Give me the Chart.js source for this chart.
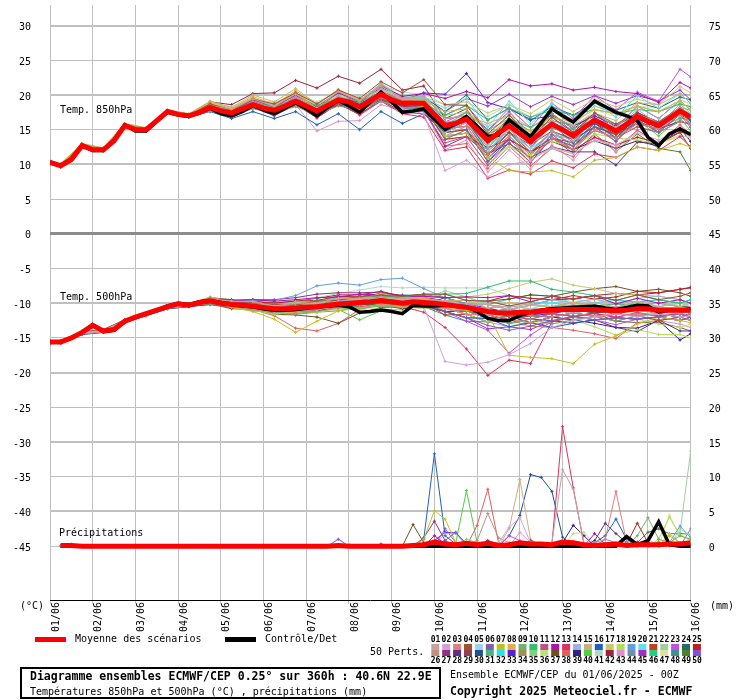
<!DOCTYPE html>
<html><head><meta charset="utf-8">
<script src="https://cdn.jsdelivr.net/npm/chart.js@4/dist/chart.umd.min.js"></script>
<style>html,body{margin:0;padding:0;background:#fff}canvas{display:block}</style>
</head><body>
<canvas id="c" width="740" height="700"></canvas>
<script>
// ---------- DATA ----------
const dayLabels = ['01/06','02/06','03/06','04/06','05/06','06/06','07/06','08/06','09/06','10/06','11/06','12/06','13/06','14/06','15/06','16/06'];
const dayHours = [0,24,48,72,96,120,144,168,192,216,240,264,288,312,336,360];
const leftTicks = [30,25,20,15,10,5,0,-5,-10,-15,-20,-25,-30,-35,-40,-45];
const rightTicks = [75,70,65,60,55,50,45,40,35,30,25,20,15,10,5,0];
const hours6 = [0,6,12,18,24,30,36,42,48,54,60,66,72,78,84,90,96,102,108,114,120,126,132,138,144,150,156,162,168,174,180,186,192,198,204,210,216,222,228,234,240,246,252,258,264,270,276,282,288,294,300,306,312,318,324,330,336,342,348,354,360];
const memberHours = [0,6,18,30,42,54,66,78,90,102,114,126,138,150,162,174,186,198,210,222,234,246,258,270,282,294,306,318,330,342,354,360];

const mean850 = [10.3,9.8,10.7,12.7,12.1,12.1,13.4,15.6,15.0,15.0,16.3,17.6,17.2,17.0,17.5,18.2,17.7,17.4,18.0,18.6,18.1,17.8,18.4,19.1,18.4,17.7,18.5,19.3,19.0,18.3,19.2,20.1,19.3,18.8,18.8,18.8,17.2,15.6,15.9,16.5,15.0,13.4,14.5,15.6,14.4,13.3,14.6,15.8,15.0,14.1,15.3,16.4,15.6,14.8,15.8,16.9,16.2,15.6,16.6,17.7,16.8];
const ctrl850 = [10.3,9.8,10.8,12.8,12.0,12.0,13.5,15.7,14.8,14.8,16.2,17.5,17.1,16.9,17.4,18.1,17.3,17.0,17.6,18.5,17.8,17.3,18.1,18.9,18.0,17.0,18.2,19.2,18.4,17.5,19.0,20.4,19.0,17.5,17.7,18.0,16.5,15.0,15.9,16.9,15.5,14.0,14.2,16.4,15.2,14.0,16.0,18.0,17.0,16.1,17.6,19.1,18.3,17.5,17.0,16.3,13.9,12.7,14.4,15.1,14.3];
const mean500 = [-15.6,-15.6,-15.0,-14.2,-13.2,-14.0,-13.8,-12.6,-12.0,-11.5,-11.0,-10.5,-10.1,-10.3,-9.9,-9.7,-10.0,-10.2,-10.3,-10.4,-10.6,-10.8,-10.8,-10.7,-10.6,-10.5,-10.3,-10.1,-10.0,-9.9,-9.8,-9.6,-9.8,-10.0,-9.8,-9.9,-10.0,-10.2,-10.4,-10.6,-10.9,-11.2,-11.4,-11.4,-11.3,-11.3,-11.1,-11.0,-10.9,-10.9,-10.9,-10.9,-11.0,-11.1,-11.0,-10.8,-10.8,-11.0,-11.0,-11.0,-11.0];
const ctrl500 = [-15.6,-15.6,-15.0,-14.2,-13.1,-14.1,-13.9,-12.6,-12.0,-11.5,-11.0,-10.4,-10.0,-10.2,-9.8,-9.6,-9.9,-10.2,-10.4,-10.5,-10.8,-11.0,-11.0,-10.9,-10.7,-10.6,-10.4,-10.3,-10.5,-11.3,-11.2,-11.0,-11.2,-11.5,-10.3,-10.4,-10.4,-10.3,-10.4,-10.5,-11.2,-12.2,-12.5,-12.5,-11.8,-11.3,-11.0,-10.8,-10.7,-10.6,-10.5,-10.4,-10.7,-10.9,-10.6,-10.3,-10.4,-11.3,-11.0,-11.0,-10.8];
// precipitation (mm per 6h), hours 6..360
const meanPrecip = [0.1,0.1,0,0,0,0,0,0,0,0, 0,0,0,0,0,0,0,0,0,0, 0,0,0,0,0,0,0.1,0,0,0, 0,0,0,0.1,0.2,0.6,0.3,0.2,0.4,0.2, 0.4,0.1,0.2,0.5,0.3,0.3,0.2,0.6,0.5,0.2, 0.1,0.2,0.3,0.1,0.2,0.2,0.2,0.3,0.3,0.5];
const ctrlPrecip = [0,0,0,0,0,0,0,0,0,0, 0,0,0,0,0,0,0,0,0,0, 0,0,0,0,0,0,0,0,0,0, 0,0,0,0,0,0,0,0,0,0, 0,0,0,0,0,0,0,0,0,0, 0,0,0,1.4,0.2,0.8,3.5,0.2,0,0];

const memberColors = ['#c8a0a0','#d0a0e0','#e08080','#a05030','#a0d0f0','#8060b0','#c0c020','#e0b050','#70b070','#30c070','#c05080','#b010b0','#e03060','#a0b0e0','#c8b080','#2060c0','#c8c870','#b0e050','#60a0e0','#60e0f0','#c04020','#a0d0a0','#c050e0','#207060','#c02020','#c09080','#903080','#603080','#904050','#205090','#50b080','#30e0e0','#6020d0','#a09050','#80d080','#c0e080','#705020','#e06060','#302080','#50d040','#b0d8c8','#a02040','#e090d0','#7090b0','#a030c0','#20d080','#e0e0a0','#409090','#508030','#8050e0'];

const members850 = [
[10.4,9.9,12.8,12.2,15.7,15.1,17.7,17.1,18.5,17.9,19.4,18.4,20.1,18.1,20.5,19.1,21.6,19.4,19.8,16.6,17.0,12.4,15.1,11.8,14.8,13.3,16.4,15.3,17.9,15.8,18.2,17.1],
[10.2,9.7,12.6,12.0,15.5,14.9,17.5,16.9,18.2,17.1,18.8,17.6,19.4,17.3,19.3,17.8,19.9,18.0,17.3,9.1,10.6,8.2,10.0,10.5,12.5,11.5,13.5,12.8,14.5,13.5,15.0,14.0],
[10.3,9.8,12.7,12.1,15.6,15.0,17.6,17.0,18.4,17.4,19.0,18.0,19.7,18.0,19.7,18.5,20.6,19.1,19.0,15.1,15.5,11.4,14.1,10.8,13.8,12.1,14.9,13.8,15.9,15.1,17.2,15.8],
[10.4,9.9,12.8,12.2,15.7,15.1,17.7,17.1,18.7,17.8,19.4,18.7,20.3,18.7,20.7,19.5,21.9,20.3,22.2,18.6,18.5,14.4,17.1,13.8,16.8,14.6,17.4,15.8,17.4,16.1,18.2,17.1],
[10.2,9.7,12.6,12.0,15.5,14.9,17.5,16.9,18.0,17.1,18.6,17.6,19.3,17.3,19.6,18.2,20.5,18.8,18.5,14.6,16.0,11.9,15.1,12.3,15.5,13.6,16.4,15.3,17.1,16.2,18.1,17.3],
[10.3,9.8,12.7,12.1,15.6,15.0,17.6,17.0,18.6,17.6,19.1,17.9,19.5,17.5,19.5,18.3,20.4,18.5,18.2,13.6,15.0,10.4,13.6,10.8,14.3,12.1,15.4,13.3,16.4,14.6,17.2,15.3],
[10.5,10.0,12.9,12.3,15.8,15.2,17.8,17.2,18.8,17.9,19.6,18.3,20.4,18.0,19.8,18.5,20.5,18.6,18.3,14.0,14.5,11.0,9.1,8.9,9.1,8.2,10.6,11.0,12.5,12.0,13.0,12.5],
[10.5,10.0,12.9,12.3,15.8,15.2,17.8,17.2,19.0,18.0,19.8,18.6,20.6,18.7,20.6,19.2,21.3,19.3,19.2,17.6,18.0,14.4,16.1,14.8,16.8,16.1,17.9,17.3,18.4,17.6,19.2,17.8],
[10.1,9.6,12.5,11.9,15.4,14.8,17.4,16.8,17.7,17.0,18.0,17.5,18.3,17.2,18.4,17.9,19.1,18.2,18.0,15.6,17.5,14.9,16.6,15.3,17.3,15.1,16.4,15.3,16.4,14.6,17.2,15.8],
[10.4,9.9,12.8,12.2,15.7,15.1,17.7,17.1,18.5,17.9,18.8,18.4,19.2,18.5,19.3,18.8,19.9,19.1,18.8,17.1,18.5,16.4,18.1,16.8,17.8,17.1,17.9,17.3,17.9,17.6,18.7,18.3],
[10.2,9.7,12.6,12.0,15.5,14.9,17.5,16.9,17.9,16.9,18.4,17.4,19.1,17.1,19.0,17.6,19.6,17.8,17.6,13.1,14.0,9.9,13.1,10.3,13.8,12.6,14.9,13.8,15.4,14.6,17.2,15.8],
[10.4,9.9,12.8,12.2,15.7,15.1,17.7,17.1,18.7,17.7,19.3,18.3,20.0,18.3,20.3,19.1,21.3,19.8,20.2,19.5,20.5,19.6,22.2,21.3,21.6,20.7,21.1,20.5,20.2,18.9,21.8,21.0],
[10.3,9.8,12.7,12.1,15.6,15.0,17.6,17.0,18.2,17.2,18.7,17.3,18.8,16.7,18.8,17.1,19.1,17.3,16.8,12.0,12.5,8.0,9.2,8.6,10.5,9.5,11.5,11.0,12.5,12.0,14.0,12.5],
[10.4,9.9,12.8,12.2,15.7,15.1,17.7,17.1,18.4,17.5,19.1,18.1,19.8,17.9,19.9,18.7,20.9,19.3,19.4,16.1,16.5,12.9,16.1,12.8,16.3,14.1,17.4,15.3,18.4,16.6,19.2,17.8],
[10.6,10.1,13.0,12.4,15.9,15.3,17.9,17.3,19.1,18.2,20.0,19.0,20.9,18.7,20.8,19.3,21.4,19.6,19.3,16.6,17.0,15.9,17.1,15.3,16.8,15.6,17.4,16.3,18.9,18.6,20.2,18.8],
[10.2,9.7,12.6,12.0,15.5,14.9,17.5,16.9,17.6,16.6,17.6,16.6,17.6,15.7,17.3,15.0,17.6,15.9,17.3,14.6,16.5,11.9,15.1,12.3,15.8,13.1,15.9,13.8,16.9,15.1,17.7,16.3],
[10.4,9.9,12.8,12.2,15.7,15.1,17.7,17.1,18.6,17.8,19.2,18.6,20.2,18.4,20.4,19.2,20.7,19.4,19.7,18.6,19.0,17.4,18.6,17.3,19.3,17.6,19.4,18.3,19.4,18.6,21.2,20.3],
[10.3,9.8,12.7,12.1,15.6,15.0,17.6,17.0,18.2,17.6,18.4,17.8,18.7,17.8,19.0,18.3,19.6,19.0,18.8,14.1,14.5,10.9,12.6,11.3,13.3,12.6,14.4,13.8,13.5,13.0,14.0,12.5],
[10.1,9.6,12.5,11.9,15.4,14.8,17.4,16.8,17.8,16.9,18.3,17.2,18.9,16.9,18.9,17.5,19.8,17.9,18.3,15.6,16.0,13.4,16.1,13.8,15.8,15.1,16.4,15.3,16.4,15.6,17.2,16.8],
[10.5,10.0,12.9,12.3,15.8,15.2,17.8,17.2,18.8,17.7,19.5,18.3,20.1,18.3,20.5,19.0,21.7,19.7,19.6,18.1,19.5,15.4,19.1,15.8,18.8,16.1,18.9,16.8,19.9,18.1,20.2,18.8],
[10.3,9.8,12.7,12.1,15.6,15.0,17.6,17.0,18.0,17.4,18.2,18.0,18.5,18.0,18.8,18.7,19.5,19.3,19.0,14.6,15.0,11.4,14.6,11.8,14.8,13.6,15.4,14.3,15.9,15.6,17.2,16.3],
[10.4,9.9,12.8,12.2,15.7,15.1,17.7,17.1,18.5,18.0,19.0,18.6,19.6,18.6,20.0,19.3,20.7,20.0,19.7,17.1,17.5,15.4,17.1,14.3,17.8,15.6,18.4,17.3,18.4,17.6,18.7,18.3],
[10.3,9.8,12.7,12.1,15.6,15.0,17.6,17.0,18.3,17.2,18.9,17.8,19.3,17.4,19.7,18.1,20.6,18.8,19.1,16.1,17.5,14.9,18.1,15.3,18.8,16.6,19.9,17.8,20.4,19.1,23.7,22.6],
[10.2,9.7,12.6,12.0,15.5,14.9,17.5,16.9,18.1,17.6,18.6,18.2,19.3,18.2,19.6,18.9,20.5,19.5,19.7,17.6,20.0,16.4,18.1,16.3,18.3,17.1,18.9,17.8,18.9,18.1,19.7,19.3],
[10.4,9.9,12.8,12.2,15.7,15.1,17.7,17.1,18.4,17.4,19.1,17.8,19.7,17.7,19.8,18.1,20.4,18.3,18.5,13.6,14.0,12.4,13.6,11.8,13.3,12.1,13.9,12.8,13.9,13.1,14.7,14.3],
[10.3,9.8,12.7,12.1,15.6,15.0,17.6,17.0,18.3,17.7,18.5,18.0,18.8,17.8,19.1,18.6,19.7,19.0,19.4,14.1,15.5,10.9,14.1,11.3,14.3,13.1,14.9,14.3,15.4,14.6,16.2,15.8],
[10.2,9.7,12.6,12.0,15.5,14.9,17.5,16.9,17.9,17.2,18.1,17.4,18.5,17.2,18.5,17.8,19.2,18.4,18.1,12.6,14.0,11.4,13.6,11.8,13.8,13.1,14.9,13.8,15.9,15.1,16.2,15.8],
[10.3,9.8,12.7,12.1,15.6,15.0,17.6,17.0,18.2,17.5,18.4,17.7,18.8,17.5,18.8,17.9,19.5,18.1,18.0,14.0,14.5,11.5,13.0,11.0,12.5,11.8,11.8,9.9,13.2,13.0,14.6,12.3],
[10.1,9.6,12.5,11.9,15.4,14.8,17.4,16.8,17.7,16.7,18.2,17.0,18.6,16.7,18.7,17.2,19.3,17.5,17.3,14.6,16.0,11.9,14.6,12.8,14.8,13.6,15.4,13.3,16.4,14.6,16.2,15.8],
[10.4,9.9,12.8,12.2,15.7,15.1,17.7,17.1,18.5,17.5,19.0,18.1,19.7,17.9,19.8,18.6,20.5,19.0,19.3,14.6,15.0,10.4,13.1,10.3,13.8,12.6,15.4,14.3,16.4,15.6,17.7,16.3],
[10.4,9.9,12.8,12.2,15.7,15.1,17.7,17.1,18.4,17.8,18.9,18.3,19.5,18.3,19.8,19.0,20.4,19.4,19.2,15.6,17.0,14.4,15.6,13.8,15.3,14.1,15.9,14.8,15.9,15.1,16.7,16.3],
[10.4,9.9,12.8,12.2,15.7,15.1,17.7,17.1,18.7,17.6,19.4,18.2,20.2,18.2,20.6,18.9,21.5,19.6,19.5,16.1,16.0,12.9,14.6,12.3,14.3,13.6,15.4,14.8,16.4,16.1,17.7,17.3],
[10.3,9.8,12.7,12.1,15.6,15.0,17.6,17.0,18.2,17.6,18.7,18.1,19.3,18.1,19.6,18.4,20.3,19.2,20.3,20.1,23.1,18.9,18.0,16.5,17.0,15.5,17.0,15.5,17.5,16.0,18.0,17.0],
[10.2,9.7,12.6,12.0,15.5,14.9,17.5,16.9,18.0,17.4,18.2,17.7,18.6,17.5,18.7,18.2,19.4,18.5,18.4,15.1,15.5,13.4,15.1,13.3,15.3,14.6,16.4,15.8,16.9,16.1,17.2,16.8],
[10.5,10.0,12.9,12.3,15.8,15.2,17.8,17.2,18.6,18.0,19.1,18.5,19.7,18.6,20.1,19.3,20.8,19.9,19.8,15.6,17.0,11.9,15.1,12.3,15.8,13.1,16.9,14.3,17.4,15.6,18.7,17.3],
[10.3,9.8,12.7,12.1,15.6,15.0,17.6,17.0,17.9,17.3,18.1,17.6,18.4,17.4,18.5,17.9,19.1,18.3,18.2,13.6,14.0,9.9,12.6,10.8,12.3,11.6,13.4,12.8,13.9,13.1,14.2,13.8],
[10.2,9.7,12.6,12.0,15.5,14.9,17.5,16.9,18.2,17.1,18.8,17.6,19.4,17.3,19.5,18.0,20.5,18.3,18.8,16.6,18.0,13.4,16.6,13.8,17.3,15.1,17.4,15.3,18.4,16.6,19.2,17.8],
[10.4,9.9,12.8,12.2,15.7,15.1,17.7,17.1,18.3,17.2,18.6,17.3,18.8,16.9,18.7,17.3,19.2,17.6,17.8,12.6,13.0,9.4,12.6,9.8,12.3,11.1,13.9,12.3,14.9,13.1,15.7,14.3],
[10.3,9.8,12.7,12.1,15.6,15.0,17.6,17.0,18.4,17.4,18.9,17.8,19.5,17.6,19.6,18.1,20.3,18.5,18.6,14.1,14.5,10.9,13.6,11.8,13.8,12.1,13.4,12.3,13.4,12.6,15.2,13.3],
[10.4,9.9,12.8,12.2,15.7,15.1,17.7,17.1,18.5,17.9,18.8,18.2,19.2,18.3,19.3,18.8,20.0,19.2,19.0,15.1,16.5,12.4,15.6,12.8,16.3,13.6,16.4,13.8,16.4,14.1,16.7,14.8],
[10.5,10.0,12.9,12.3,15.8,15.2,17.8,17.2,18.9,18.3,19.4,18.9,20.1,19.0,20.4,19.7,21.3,20.4,20.1,18.6,18.5,16.9,18.6,16.8,18.3,17.1,18.4,17.3,18.4,17.6,19.2,18.8],
[10.5,10.0,12.9,12.3,15.8,15.2,17.8,17.2,19.0,18.6,20.2,20.3,22.1,21.0,22.7,21.7,23.7,20.7,21.3,16.6,17.0,13.9,15.6,13.8,15.3,14.1,15.9,14.3,15.9,15.1,16.2,15.8],
[10.3,9.8,12.7,12.1,15.6,15.0,17.6,17.0,18.2,17.0,18.4,17.0,18.6,14.8,16.2,16.3,18.6,17.8,18.0,12.1,13.5,8.9,12.1,9.3,12.8,10.6,14.4,11.8,14.9,13.1,15.2,13.8],
[10.2,9.7,12.6,12.0,15.5,14.9,17.5,16.9,18.1,17.4,18.7,18.0,19.1,18.0,19.4,18.5,20.1,19.1,19.2,15.1,15.5,13.9,16.6,14.8,16.3,15.6,16.9,15.8,16.9,16.1,17.7,17.3],
[10.4,9.9,12.8,12.2,15.7,15.1,17.7,17.1,18.5,17.6,19.2,18.2,19.9,18.2,20.2,18.9,21.1,19.6,19.8,17.6,19.5,18.4,20.1,18.3,19.8,18.6,19.9,18.8,19.9,19.1,20.7,19.3],
[10.3,9.8,12.7,12.1,15.6,15.0,17.6,17.0,18.4,17.8,18.7,18.3,19.1,18.3,19.5,19.0,20.4,19.6,19.3,16.6,17.0,12.9,16.1,13.3,16.8,14.1,17.4,14.8,17.4,16.1,18.2,17.8],
[10.4,9.9,12.8,12.2,15.7,15.1,17.7,17.1,18.7,18.1,19.5,18.8,20.3,18.5,20.3,18.9,21.0,19.3,19.4,16.1,17.5,13.9,17.1,14.3,17.3,15.1,17.9,16.8,18.4,18.1,19.7,18.3],
[10.2,9.7,12.6,12.0,15.5,14.9,17.5,16.9,17.9,17.3,18.2,17.8,18.5,17.5,18.6,18.0,19.3,18.6,18.3,14.6,16.5,11.4,14.6,11.3,14.8,12.6,15.9,13.8,16.9,14.6,17.2,15.8],
[10.3,9.8,12.7,12.1,15.6,15.0,17.6,17.0,18.3,17.3,18.8,17.5,19.4,17.3,19.4,17.8,20.1,18.2,18.4,14.6,16.0,11.4,14.1,10.8,13.8,11.6,14.4,11.8,14.4,12.3,11.8,9.1],
[10.4,9.9,12.8,12.2,15.7,15.1,17.7,17.1,18.4,17.7,18.7,18.2,19.1,18.2,19.4,18.9,20.3,19.5,19.6,17.1,18.5,14.9,17.6,14.3,17.3,14.6,17.4,14.8,17.4,15.1,17.7,16.3]
];

const members500 = [
[-15.5,-15.5,-14.2,-13.9,-12.5,-11.5,-10.5,-10.2,-9.4,-9.7,-9.8,-10.4,-10.0,-10.0,-9.3,-9.3,-9.1,-9.3,-9.5,-9.7,-10.3,-10.2,-10.6,-10.1,-10.5,-10.2,-10.6,-10.5,-10.8,-10.6,-10.8,-10.5],
[-15.6,-15.6,-14.3,-14.0,-12.6,-11.6,-10.6,-10.3,-9.8,-10.2,-10.2,-10.8,-10.4,-10.4,-9.7,-9.7,-9.3,-10.0,-10.5,-18.4,-18.9,-18.5,-17.4,-15.8,-13.5,-12.5,-12.0,-11.5,-12.0,-11.5,-12.0,-11.8],
[-15.7,-15.7,-14.4,-14.1,-12.7,-11.7,-10.7,-10.4,-10.0,-10.4,-10.9,-11.1,-11.3,-10.9,-10.6,-10.6,-10.2,-10.4,-10.4,-10.7,-11.6,-11.7,-12.4,-12.8,-12.0,-11.4,-11.9,-11.6,-11.6,-11.3,-11.5,-11.2],
[-15.4,-15.4,-14.1,-13.8,-12.4,-11.4,-10.4,-10.1,-9.3,-9.9,-9.9,-10.2,-10.3,-9.7,-9.6,-9.0,-8.9,-9.0,-8.7,-8.7,-9.6,-9.7,-10.4,-9.8,-9.0,-9.4,-8.9,-9.6,-8.8,-9.5,-9.0,-8.5],
[-15.6,-15.6,-14.3,-14.0,-12.6,-11.6,-10.6,-10.3,-9.7,-10.5,-10.2,-11.2,-10.6,-11.0,-10.1,-10.2,-9.4,-10.2,-9.9,-9.7,-10.6,-11.7,-11.4,-10.8,-11.0,-11.4,-10.9,-10.6,-10.8,-11.5,-11.0,-10.5],
[-15.5,-15.5,-14.2,-13.9,-12.5,-11.5,-10.5,-10.2,-9.5,-9.8,-10.4,-10.5,-10.9,-10.3,-10.4,-9.8,-10.0,-10.0,-10.1,-11.2,-12.1,-13.2,-13.9,-13.3,-12.5,-11.9,-12.4,-12.1,-12.3,-12.0,-11.5,-12.0],
[-15.6,-15.6,-14.3,-14.0,-12.6,-11.6,-10.6,-10.3,-9.9,-10.6,-11.2,-12.3,-14.2,-12.6,-11.1,-10.7,-10.1,-10.6,-10.3,-10.8,-11.0,-11.5,-17.5,-17.8,-18.0,-18.7,-15.9,-14.7,-13.0,-12.0,-12.5,-12.8],
[-15.7,-15.7,-14.4,-14.1,-12.7,-11.7,-10.7,-10.4,-9.2,-10.0,-9.7,-10.4,-9.8,-9.9,-9.3,-9.4,-8.6,-9.2,-9.3,-9.7,-9.6,-10.7,-9.9,-10.3,-10.5,-9.9,-10.4,-11.1,-10.3,-11.0,-10.5,-11.0],
[-15.6,-15.6,-14.3,-14.0,-12.6,-11.6,-10.6,-10.3,-10.1,-10.5,-11.0,-11.3,-11.5,-11.2,-10.7,-10.8,-10.4,-10.5,-10.6,-10.2,-11.1,-12.2,-12.9,-12.3,-13.0,-12.4,-11.9,-12.6,-11.8,-11.5,-12.0,-11.5],
[-15.5,-15.5,-14.2,-13.9,-12.5,-11.5,-10.5,-10.2,-9.5,-9.7,-10.1,-10.1,-10.1,-9.6,-9.6,-9.1,-9.0,-9.1,-8.7,-8.7,-8.6,-7.7,-6.8,-6.8,-8.0,-8.4,-8.9,-9.6,-8.8,-9.5,-10.0,-9.5],
[-15.7,-15.7,-14.4,-14.1,-12.7,-11.7,-10.7,-10.4,-9.8,-10.0,-10.7,-10.8,-10.9,-10.2,-10.2,-9.7,-9.9,-9.9,-9.9,-10.7,-10.6,-11.2,-11.9,-12.3,-11.5,-11.9,-12.4,-12.1,-11.3,-12.0,-12.5,-12.0],
[-15.6,-15.6,-14.3,-14.0,-12.6,-11.6,-10.6,-10.3,-9.4,-9.6,-9.5,-9.7,-9.5,-9.2,-9.1,-8.7,-8.8,-8.9,-9.0,-9.2,-9.1,-9.2,-8.9,-9.8,-9.0,-9.4,-8.9,-10.1,-9.3,-10.0,-9.5,-10.0],
[-15.5,-15.5,-14.2,-13.9,-12.5,-11.5,-10.5,-10.2,-9.5,-10.2,-10.1,-10.8,-10.3,-10.3,-10.0,-9.9,-9.4,-10.5,-11.3,-13.5,-16.6,-20.4,-18.2,-18.7,-12.7,-12.0,-11.5,-12.0,-11.5,-11.8,-11.5,-11.0],
[-15.6,-15.6,-14.3,-14.0,-12.6,-11.6,-10.6,-10.3,-9.7,-9.9,-10.3,-10.4,-10.5,-10.0,-9.5,-9.5,-8.9,-9.5,-9.3,-10.2,-10.1,-10.2,-10.9,-10.3,-9.5,-9.9,-9.4,-10.1,-9.3,-9.0,-9.5,-10.0],
[-15.4,-15.4,-14.1,-13.8,-12.4,-11.4,-10.4,-10.1,-9.1,-9.8,-10.1,-10.6,-10.3,-9.9,-9.3,-9.4,-8.9,-9.6,-9.4,-9.7,-10.6,-10.7,-10.4,-10.8,-11.0,-10.4,-9.9,-10.6,-9.8,-10.5,-10.0,-10.5],
[-15.8,-15.8,-14.5,-14.2,-12.8,-11.8,-10.8,-10.5,-10.2,-10.5,-10.8,-11.0,-11.0,-10.6,-10.3,-9.9,-9.9,-10.1,-10.1,-11.2,-12.1,-12.2,-13.4,-12.8,-13.5,-12.9,-12.4,-12.1,-12.3,-12.0,-12.5,-12.0],
[-15.6,-15.6,-14.3,-14.0,-12.6,-11.6,-10.6,-10.3,-9.6,-10.2,-10.1,-10.6,-10.2,-10.2,-9.7,-9.7,-9.3,-9.5,-9.1,-9.2,-9.1,-8.7,-7.9,-7.0,-6.5,-7.4,-7.9,-8.6,-8.8,-9.0,-9.5,-10.0],
[-15.5,-15.5,-14.2,-13.9,-12.5,-11.5,-10.5,-10.2,-9.9,-10.6,-11.0,-11.6,-11.3,-11.4,-10.6,-10.7,-10.3,-10.6,-10.4,-10.7,-11.6,-12.7,-12.4,-12.8,-13.0,-12.4,-13.4,-14.6,-13.8,-14.5,-14.5,-15.0],
[-15.6,-15.6,-14.3,-14.0,-12.6,-11.6,-10.6,-10.3,-9.4,-9.7,-9.6,-9.6,-8.9,-7.5,-7.1,-7.4,-6.6,-6.4,-7.9,-9.2,-10.1,-11.2,-10.9,-11.3,-10.5,-11.4,-10.9,-11.6,-10.8,-10.5,-11.0,-11.5],
[-15.7,-15.7,-14.4,-14.1,-12.7,-11.7,-10.7,-10.4,-9.6,-10.3,-10.2,-10.8,-10.4,-10.4,-9.9,-9.9,-9.2,-9.8,-9.6,-9.7,-9.6,-9.7,-10.4,-10.8,-10.0,-9.4,-9.9,-10.6,-9.8,-10.5,-10.0,-9.5],
[-15.6,-15.6,-14.3,-14.0,-12.6,-11.6,-10.6,-10.3,-10.0,-10.7,-10.6,-11.2,-10.8,-10.8,-10.1,-10.1,-9.5,-10.1,-9.9,-11.7,-11.6,-11.7,-12.4,-11.3,-11.5,-11.9,-11.4,-12.6,-11.8,-12.5,-12.0,-11.5],
[-15.5,-15.5,-14.2,-13.9,-12.5,-11.5,-10.5,-10.2,-9.3,-10.0,-9.9,-10.5,-10.1,-10.1,-9.4,-9.4,-9.3,-9.4,-9.5,-8.2,-9.1,-10.2,-10.9,-10.3,-10.5,-10.9,-10.4,-11.1,-10.3,-10.0,-10.5,-10.0],
[-15.6,-15.6,-14.3,-14.0,-12.6,-11.6,-10.6,-10.3,-9.7,-10.0,-10.5,-10.7,-11.0,-10.5,-10.3,-9.8,-9.7,-9.8,-9.9,-11.2,-12.6,-13.9,-17.2,-14.6,-12.6,-11.9,-12.4,-13.1,-12.3,-12.0,-12.5,-12.0],
[-15.7,-15.7,-14.4,-14.1,-12.7,-11.7,-10.7,-10.4,-9.9,-10.2,-10.7,-10.9,-11.1,-10.7,-10.6,-10.2,-10.2,-10.4,-10.2,-10.2,-10.1,-11.2,-11.9,-11.3,-10.5,-10.9,-11.4,-11.1,-10.3,-10.0,-10.5,-10.5],
[-15.5,-15.5,-14.2,-13.9,-12.5,-11.5,-10.5,-10.2,-9.2,-9.5,-9.8,-10.0,-9.7,-9.6,-9.0,-9.1,-8.6,-9.3,-9.3,-9.7,-9.6,-9.7,-8.9,-9.3,-9.5,-8.9,-9.4,-9.1,-8.3,-8.5,-8.0,-7.7],
[-15.6,-15.6,-14.3,-14.0,-12.6,-11.6,-10.6,-10.3,-9.8,-10.4,-10.4,-11.1,-10.6,-10.7,-9.9,-10.0,-9.4,-10.0,-9.8,-10.7,-11.6,-11.7,-11.4,-11.8,-12.0,-11.4,-11.9,-11.6,-11.8,-12.5,-12.0,-12.5],
[-15.5,-15.5,-14.2,-13.9,-12.5,-11.5,-10.5,-10.2,-9.4,-9.6,-9.5,-9.5,-9.2,-8.7,-8.5,-8.5,-8.4,-9.0,-9.1,-9.7,-10.6,-11.7,-11.4,-10.8,-11.0,-10.4,-10.9,-11.6,-10.8,-10.5,-11.0,-10.5],
[-15.7,-15.7,-14.4,-14.1,-12.7,-11.7,-10.7,-10.4,-9.9,-10.6,-10.7,-11.3,-11.1,-11.1,-10.6,-10.6,-10.2,-10.8,-10.4,-11.2,-11.1,-12.2,-12.9,-12.3,-12.5,-12.9,-12.4,-13.5,-14.1,-12.4,-14.0,-14.0],
[-15.6,-15.6,-14.3,-14.0,-12.6,-11.6,-10.6,-10.3,-9.5,-10.1,-10.0,-10.6,-10.2,-10.2,-9.5,-9.5,-9.1,-9.7,-9.7,-10.2,-11.1,-11.7,-12.4,-11.8,-11.0,-11.4,-10.9,-10.6,-10.8,-11.5,-11.0,-11.5],
[-15.7,-15.7,-14.4,-14.1,-12.7,-11.7,-10.7,-10.4,-9.7,-10.4,-10.3,-10.9,-10.5,-10.5,-9.8,-9.8,-9.4,-10.1,-9.9,-10.7,-11.6,-12.7,-12.4,-11.8,-12.0,-11.4,-11.9,-11.6,-10.8,-11.5,-12.0,-11.5],
[-15.5,-15.5,-14.2,-13.9,-12.5,-11.5,-10.5,-10.2,-9.5,-9.8,-10.2,-10.3,-10.4,-9.9,-9.7,-9.2,-9.1,-9.2,-9.0,-9.2,-10.1,-10.2,-10.9,-11.3,-10.5,-9.9,-10.4,-10.1,-10.3,-11.0,-10.5,-11.0],
[-15.6,-15.6,-14.3,-14.0,-12.6,-11.6,-10.6,-10.3,-9.6,-9.9,-9.9,-10.1,-9.8,-9.7,-9.1,-9.2,-9.1,-9.4,-9.1,-8.7,-9.6,-10.7,-10.4,-9.8,-10.0,-10.4,-9.9,-9.6,-9.8,-9.5,-10.0,-9.5],
[-15.6,-15.6,-14.3,-14.0,-12.6,-11.6,-10.6,-10.3,-9.8,-10.1,-10.6,-10.8,-11.0,-10.6,-10.3,-9.9,-10.0,-10.2,-10.2,-9.2,-10.1,-10.7,-11.4,-11.8,-11.5,-10.9,-11.4,-11.1,-10.3,-11.0,-10.5,-11.0],
[-15.7,-15.7,-14.4,-14.1,-12.7,-11.7,-10.7,-10.4,-10.2,-10.6,-11.1,-11.4,-11.6,-11.3,-11.1,-10.6,-10.4,-10.6,-10.6,-11.2,-12.1,-12.2,-11.9,-12.3,-11.5,-11.9,-11.4,-12.1,-12.3,-12.0,-11.5,-12.0],
[-15.6,-15.6,-14.3,-14.0,-12.6,-11.6,-10.6,-10.3,-9.5,-10.2,-10.1,-10.7,-10.3,-10.3,-9.6,-9.6,-9.4,-9.6,-9.8,-10.2,-10.1,-11.2,-10.9,-10.3,-10.5,-10.9,-10.4,-11.1,-11.3,-11.0,-11.5,-11.0],
[-15.5,-15.5,-14.2,-13.9,-12.5,-11.5,-10.5,-10.2,-9.7,-10.4,-10.8,-11.3,-11.4,-11.1,-10.9,-10.9,-10.8,-11.0,-10.7,-10.7,-11.1,-12.2,-12.9,-13.3,-12.5,-11.9,-11.4,-12.1,-12.3,-13.0,-13.5,-13.0],
[-15.8,-15.8,-14.5,-14.2,-12.8,-11.8,-10.8,-10.5,-10.1,-10.8,-10.9,-11.6,-11.7,-12.0,-12.9,-11.4,-10.6,-10.5,-10.1,-9.7,-9.6,-9.7,-9.4,-8.8,-9.0,-8.4,-7.9,-7.6,-8.3,-8.0,-8.5,-9.0],
[-15.6,-15.6,-14.3,-14.0,-12.6,-11.6,-10.6,-10.3,-9.5,-10.2,-10.9,-11.8,-13.6,-14.0,-12.9,-10.9,-10.1,-10.3,-10.1,-10.7,-11.6,-12.7,-12.4,-13.3,-13.5,-13.9,-14.4,-15.1,-12.8,-12.5,-12.0,-12.5],
[-15.5,-15.5,-14.2,-13.9,-12.5,-11.5,-10.5,-10.2,-9.6,-10.0,-10.4,-10.7,-10.8,-10.5,-10.3,-10.0,-9.9,-10.2,-10.3,-11.2,-11.1,-12.2,-11.9,-12.8,-12.0,-12.4,-12.9,-13.5,-13.6,-12.5,-15.3,-14.4],
[-15.6,-15.6,-14.3,-14.0,-12.6,-11.6,-10.6,-10.3,-10.0,-10.3,-10.8,-11.0,-11.3,-11.0,-10.9,-12.4,-11.1,-10.8,-10.4,-10.2,-11.1,-11.2,-10.9,-11.3,-11.5,-10.9,-10.4,-10.1,-10.3,-11.0,-10.5,-11.0],
[-15.4,-15.4,-14.1,-13.8,-12.4,-11.4,-10.4,-10.1,-9.2,-9.5,-9.6,-9.8,-9.6,-9.2,-8.6,-8.1,-7.6,-7.8,-7.7,-7.8,-7.8,-7.8,-8.9,-9.3,-9.5,-9.9,-9.4,-10.1,-10.3,-10.0,-10.5,-10.0],
[-15.6,-15.6,-14.3,-14.0,-12.6,-11.6,-10.6,-10.3,-9.3,-9.7,-9.7,-9.9,-9.7,-9.3,-8.8,-8.8,-8.3,-9.0,-8.7,-9.2,-10.1,-11.2,-10.9,-10.3,-9.5,-9.4,-8.9,-8.6,-8.8,-8.5,-8.0,-7.8],
[-15.7,-15.7,-14.4,-14.1,-12.7,-11.7,-10.7,-10.4,-9.9,-10.2,-10.7,-10.9,-11.1,-10.7,-10.6,-10.2,-9.8,-10.0,-10.0,-10.7,-11.6,-12.7,-13.4,-12.8,-12.0,-12.4,-11.9,-11.6,-11.8,-12.5,-13.0,-13.5],
[-15.6,-15.6,-14.3,-14.0,-12.6,-11.6,-10.6,-10.3,-9.7,-10.0,-10.0,-10.2,-10.2,-9.8,-9.2,-9.1,-8.6,-8.8,-8.9,-10.2,-10.1,-11.7,-12.4,-12.8,-12.0,-11.4,-11.9,-11.6,-10.8,-11.5,-12.0,-11.5],
[-15.5,-15.5,-14.2,-13.9,-12.5,-11.5,-10.5,-10.2,-9.6,-10.3,-10.2,-10.8,-10.4,-10.4,-9.7,-9.7,-9.1,-9.7,-9.5,-11.2,-12.1,-13.7,-13.4,-13.8,-12.5,-12.9,-12.4,-12.1,-12.3,-12.0,-11.5,-12.0],
[-15.6,-15.6,-14.3,-14.0,-12.6,-11.6,-10.6,-10.3,-9.4,-9.7,-10.0,-10.2,-10.2,-9.7,-9.4,-9.0,-8.8,-8.9,-8.9,-9.2,-9.1,-10.2,-9.4,-8.8,-9.0,-9.4,-8.9,-9.6,-9.8,-9.5,-10.0,-9.5],
[-15.5,-15.5,-14.2,-13.9,-12.5,-11.5,-10.5,-10.2,-9.5,-9.9,-10.3,-10.4,-10.5,-10.0,-9.8,-9.3,-9.2,-9.3,-9.4,-10.2,-11.1,-12.2,-11.9,-11.3,-10.5,-10.9,-11.4,-11.1,-11.3,-11.0,-10.5,-11.0],
[-15.7,-15.7,-14.4,-14.1,-12.7,-11.7,-10.7,-10.4,-9.8,-10.5,-10.6,-11.2,-11.0,-11.0,-10.5,-10.5,-10.1,-10.7,-10.5,-11.7,-12.6,-12.7,-12.4,-12.8,-12.0,-11.4,-11.9,-11.6,-11.8,-11.5,-12.0,-12.5],
[-15.6,-15.6,-14.3,-14.0,-12.6,-11.6,-10.6,-10.3,-9.7,-10.3,-10.3,-11.0,-10.7,-10.8,-10.2,-10.3,-9.8,-10.5,-10.2,-10.2,-11.1,-11.7,-11.4,-11.8,-12.0,-12.4,-11.9,-12.6,-12.8,-12.8,-13.5,-14.0],
[-15.6,-15.6,-14.3,-14.0,-12.6,-11.6,-10.6,-10.3,-9.6,-10.0,-10.1,-10.6,-10.3,-10.2,-9.9,-9.5,-9.5,-9.7,-9.7,-9.7,-10.6,-10.7,-11.4,-11.8,-11.0,-10.4,-10.9,-10.6,-9.8,-10.5,-11.0,-10.5]
];

// member precipitation: [hour, mm] readings (zero stretches between listed points)
const membersPrecip = [
[[6,0],[12,0.3],[18,0],[276,0],[282,0.5],[288,11.0],[294,8.2],[300,0.5],[306,0],[360,0]],
[[6,0],[246,0],[252,0.5],[258,2.7],[264,4.1],[270,0.5],[276,0],[360,0]],
[[6,0],[300,0],[306,0.5],[312,1.0],[318,7.9],[324,0.5],[330,0],[360,0]],
[[6,0],[204,0],[210,0.4],[216,0],[264,0],[270,0.8],[276,0],[360,0]],
[[6,0],[162,0],[168,0.3],[174,0],[330,0],[336,1.0],[342,0],[360,0]],
[[6,0],[216,0],[222,0.8],[228,2.0],[234,0.3],[240,0],[360,0]],
[[6,0],[204,0],[210,1.0],[216,5.1],[222,3.9],[228,0.5],[234,0],[342,0],[348,1.5],[354,0.5],[360,0]],
[[6,0],[228,0],[234,0.6],[240,0],[360,0]],
[[6,0],[324,0],[330,1.5],[336,4.1],[342,1.0],[348,0.5],[354,1.5],[360,1.0]],
[[6,0],[264,0],[270,0.5],[276,0],[360,0]],
[[6,0],[288,0],[294,0.6],[300,0],[360,0]],
[[6,0],[210,0],[216,1.5],[222,0.3],[228,0],[300,0],[306,1.8],[312,0.3],[318,0],[360,0]],
[[6,0],[276,0],[282,0.3],[288,17.2],[294,8.4],[300,0.3],[306,0],[360,0]],
[[6,0],[216,0],[222,1.8],[228,1.8],[234,0],[360,0]],
[[6,0],[252,0],[258,2.5],[264,9.6],[270,1.0],[276,0],[360,0]],
[[6,0],[204,0],[210,1.0],[216,13.3],[222,1.5],[228,0.3],[234,0],[300,0],[306,0.5],[312,1.5],[318,3.9],[324,1.0],[330,0],[360,0]],
[[6,0],[342,0],[348,1.8],[354,0.5],[360,0]],
[[6,0],[336,0],[342,1.0],[348,4.2],[354,1.5],[360,0.8]],
[[6,0],[342,0],[348,0.5],[354,2.9],[360,1.2]],
[[6,0],[240,0],[246,0.4],[252,0],[360,0]],
[[6,0],[180,0],[186,0.3],[192,0],[360,0]],
[[6,0],[342,0],[348,0.3],[354,2.0],[360,13.7]],
[[6,0],[216,0],[222,2.5],[228,0.5],[234,0],[252,0],[258,1.5],[264,0.8],[270,0],[360,0]],
[[6,0],[258,0],[264,0.5],[270,0],[360,0]],
[[6,0],[318,0],[324,0.3],[330,3.3],[336,0.5],[342,0],[360,0]],
[[6,0],[234,0],[240,0.8],[246,4.7],[252,1.2],[258,0.5],[264,0],[360,0]],
[[6,0],[204,0],[210,1.2],[216,3.6],[222,0.8],[228,0],[360,0]],
[[6,0],[300,0],[306,0.8],[312,3.3],[318,1.8],[324,0.5],[330,0],[360,0]],
[[6,0],[228,0],[234,0.5],[240,0],[360,0]],
[[6,0],[252,0],[258,1.5],[264,4.4],[270,10.3],[276,9.9],[282,7.9],[288,1.3],[294,0],[360,0]],
[[6,0],[246,0],[252,0.5],[258,0],[360,0]],
[[6,0],[282,0],[288,0.5],[294,0],[360,0]],
[[6,0],[204,0],[210,0.3],[216,0.8],[222,2.0],[228,1.9],[234,0.3],[240,0],[360,0]],
[[6,0],[258,0],[264,0.6],[270,0],[360,0]],
[[6,0],[228,0],[234,1.0],[240,0.5],[246,0],[360,0]],
[[6,0],[288,0],[294,1.8],[300,2.0],[306,0.3],[312,0],[360,0]],
[[6,0],[198,0],[204,3.1],[210,0.5],[216,0],[360,0]],
[[6,0],[234,0],[240,3.0],[246,8.2],[252,0.5],[258,0],[360,0]],
[[6,0],[282,0],[288,0.5],[294,3.0],[300,1.5],[306,0],[360,0]],
[[6,0],[222,0],[228,0.5],[234,8.0],[240,0.5],[246,0],[360,0]],
[[6,0],[348,0],[354,2.5],[360,1.5]],
[[6,0],[240,0],[246,0.8],[252,0.3],[258,0],[360,0]],
[[6,0],[258,0],[264,2.0],[270,0.5],[276,0],[360,0]],
[[6,0],[306,0],[312,1.0],[318,0.5],[324,0],[354,0],[360,2.5]],
[[6,0],[324,0],[330,0.6],[336,0],[360,0]],
[[6,0],[264,0],[270,0.4],[276,0],[360,0]],
[[6,0],[342,0],[348,4.5],[354,1.5],[360,1.8]],
[[6,0],[336,0],[342,0.6],[348,0],[360,0]],
[[6,0],[324,0],[330,0.5],[336,2.0],[342,2.5],[348,1.8],[354,1.8],[360,1.7]],
[[6,0],[156,0],[162,1.0],[168,0],[360,0]]
];

// ---------- LAYOUT ----------
const Y_MIN = -52.76, Y_MAX = 32.96, RIGHT_SHIFT = 45;
const FONT = '"DejaVu Sans Mono", "Liberation Mono", monospace';

const datasets = [];
const xy = (hs, vs) => vs.map((v, i) => ({x: hs[i], y: v}));
const precipHours = hours6.slice(1);

datasets.push({data: xy(hours6, mean850), borderColor:'#ff0000', borderWidth:5, pointRadius:0, yAxisID:'y', order:0});
datasets.push({data: xy(hours6, mean500), borderColor:'#ff0000', borderWidth:5, pointRadius:0, yAxisID:'y', order:0});
datasets.push({data: xy(precipHours, meanPrecip), borderColor:'#ff0000', borderWidth:5, pointRadius:0, yAxisID:'y2', order:0});
datasets.push({data: xy(hours6, ctrl850), borderColor:'#000000', borderWidth:3.5, pointRadius:0, yAxisID:'y', order:1});
datasets.push({data: xy(hours6, ctrl500), borderColor:'#000000', borderWidth:3.5, pointRadius:0, yAxisID:'y', order:1});
datasets.push({data: xy(precipHours, ctrlPrecip), borderColor:'#000000', borderWidth:3.5, pointRadius:0, yAxisID:'y2', order:1});

const memberStyle = (c) => ({borderColor:c, backgroundColor:c, pointBorderColor:c, borderWidth:1, pointStyle:'cross', pointRadius:1.6, pointBorderWidth:1, order:2});
for (let m = 0; m < memberColors.length; m++) {
  const c = memberColors[m];
  datasets.push(Object.assign({data: xy(memberHours, members850[m]), yAxisID:'y'}, memberStyle(c)));
  datasets.push(Object.assign({data: xy(memberHours, members500[m]), yAxisID:'y'}, memberStyle(c)));
  datasets.push(Object.assign({data: membersPrecip[m].map(p => ({x:p[0], y:p[1]})), yAxisID:'y2'}, memberStyle(c)));
}

const decor = {
  id: 'decor',
  afterDraw(chart) {
    const ctx = chart.ctx;
    ctx.save();
    ctx.fillStyle = '#000';
    ctx.textBaseline = 'middle';
    ctx.textAlign = 'left';
    ctx.font = '10px ' + FONT;
    ctx.fillText('Temp. 850hPa', 60, 110);
    ctx.fillText('Temp. 500hPa', 60, 297);
    ctx.fillText('Précipitations', 59, 533);
    ctx.fillText('(°C)', 20, 606);
    ctx.fillText('(mm)', 710, 606);
    // legend
    ctx.fillStyle = '#ff0000'; ctx.fillRect(35, 637, 31, 5);
    ctx.fillStyle = '#000000'; ctx.fillRect(225, 637, 31, 5);
    ctx.fillText('Moyenne des scénarios', 75, 639.5);
    ctx.fillText('Contrôle/Det', 265, 639.5);
    ctx.fillText('50 Perts.', 370, 652);
    ctx.font = 'bold 8px ' + FONT;
    ctx.textAlign = 'center';
    for (let i = 0; i < 25; i++) {
      const x0 = 431.3 + i * 10.9;
      ctx.fillStyle = memberColors[i];
      ctx.fillRect(x0, 644, 8, 6);
      ctx.fillStyle = memberColors[i + 25];
      ctx.fillRect(x0, 650, 8, 6);
      ctx.fillStyle = '#000';
      ctx.fillText(String(i + 1).padStart(2, '0'), x0 + 4.2, 640.3);
      ctx.fillText(String(i + 26), x0 + 4.2, 661.3);
    }
    // title box
    ctx.textAlign = 'left';
    ctx.strokeStyle = '#000'; ctx.lineWidth = 2;
    ctx.strokeRect(21, 668, 419, 30);
    ctx.font = 'bold 11.5px ' + FONT;
    ctx.fillText('Diagramme ensembles ECMWF/CEP 0.25° sur 360h : 40.6N 22.9E', 30, 677.5);
    ctx.font = '10px ' + FONT;
    ctx.fillText('Températures 850hPa et 500hPa (°C) , précipitations (mm)', 30, 692);
    ctx.fillText('Ensemble ECMWF/CEP du 01/06/2025 - 00Z', 450, 675);
    ctx.font = 'bold 11.5px ' + FONT;
    ctx.fillText('Copyright 2025 Meteociel.fr - ECMWF', 450, 692);
    ctx.restore();
  }
};

const gridColor = (ctx) => (ctx.tick && ctx.tick.value === 0) ? '#8c8c8c' : '#c0c0c0';
const gridWidth = (ctx) => { const v = ctx.tick ? ctx.tick.value : 1; return v === 0 ? 3 : (v % 10 === 0 ? 2 : 1); };

new Chart(document.getElementById('c'), {
  type: 'line',
  data: {datasets},
  options: {
    responsive: false, animation: false, devicePixelRatio: 1,
    layout: {padding: 0},
    plugins: {legend: {display: false}, tooltip: {enabled: false}},
    elements: {line: {tension: 0}},
    scales: {
      x: {
        type: 'linear', position: 'bottom', min: 0, max: 360,
        afterBuildTicks(s) { s.ticks = dayHours.map(v => ({value: v})); },
        afterFit(s) { s.height = 100; s.paddingLeft = 0; s.paddingRight = 0; },
        grid: {color: '#c0c0c0', lineWidth: 1, drawTicks: true, tickLength: 4, tickColor: '#c0c0c0'},
        border: {display: true, color: '#000', width: 1},
        ticks: {autoSkip: false, maxRotation: 90, minRotation: 90, padding: -2, labelOffset: 6, color: '#000',
          font: {family: FONT, size: 10},
          callback: (v) => dayLabels[dayHours.indexOf(v)]}
      },
      y: {
        type: 'linear', position: 'left', min: Y_MIN, max: Y_MAX,
        afterBuildTicks(s) { s.ticks = leftTicks.map(v => ({value: v})); },
        afterFit(s) { s.width = 50; s.paddingTop = 0; s.paddingBottom = 0; },
        grid: {color: gridColor, lineWidth: gridWidth, drawTicks: false},
        border: {display: false},
        ticks: {padding: 19, labelOffset: 2, color: '#000', font: {family: FONT, size: 10}, callback: (v) => String(v)}
      },
      y2: {
        type: 'linear', position: 'right', min: Y_MIN + RIGHT_SHIFT, max: Y_MAX + RIGHT_SHIFT,
        afterBuildTicks(s) { s.ticks = rightTicks.map(v => ({value: v})); },
        afterFit(s) { s.width = 49.3; s.paddingTop = 0; s.paddingBottom = 0; },
        grid: {display: false, drawTicks: false},
        border: {display: false},
        ticks: {padding: 18, labelOffset: 2, color: '#000', font: {family: FONT, size: 10}, callback: (v) => String(v)}
      }
    }
  },
  plugins: [decor]
});
</script>
</body></html>
